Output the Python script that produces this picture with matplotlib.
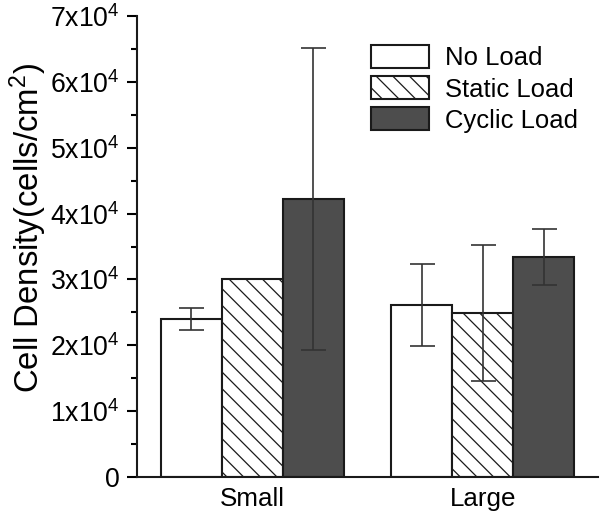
import numpy as np
import matplotlib
matplotlib.use('Agg')
import matplotlib.pyplot as plt

plt.rcParams['font.family'] = ['Liberation Sans', 'DejaVu Sans']
plt.rcParams['hatch.linewidth'] = 0.6

groups = ['Small', 'Large']
series = ['No Load', 'Static Load', 'Cyclic Load']
means = [[2.40e4, 2.61e4],
         [3.00e4, 2.49e4],
         [4.22e4, 3.34e4]]
errs = [[0.165e4, 0.62e4],
        [0.0, 1.04e4],
        [2.29e4, 0.42e4]]
colors = ['white', 'white', '#4d4d4d']
hatches = [None, '\\\\\\', None]
yticks = [0, 1e4, 2e4, 3e4, 4e4, 5e4, 6e4, 7e4]
ytick_labels = ['0'] + [r'$\mathregular{%dx10^4}$' % k for k in range(1, 8)]

fig = plt.figure(figsize=(4, 3.46), dpi=150)
ax = fig.add_axes([0.228, 0.081, 0.769, 0.888])

x = np.arange(len(groups))
w = 0.264
for i in range(3):
    ax.bar(x + (i - 1) * w, means[i], w, color=colors[i], edgecolor='#1a1a1a',
           linewidth=1.0, hatch=hatches[i], label=series[i], zorder=2)
    m = np.array(means[i])
    e = np.array(errs[i])
    keep = e > 0
    ax.errorbar((x + (i - 1) * w)[keep], m[keep], yerr=e[keep], fmt='none',
                ecolor='#333333', elinewidth=0.8, capsize=6, capthick=0.8, zorder=3)

ax.set_xlim(-0.5, 1.5)
ax.set_ylim(0, 7e4)
ax.set_xticks(x)
ax.set_xticklabels(groups, fontsize=12.5)
ax.set_yticks(yticks)
ax.set_yticklabels(ytick_labels, fontsize=12.8)
ax.set_yticks(np.arange(0.5e4, 7e4, 1e4), minor=True)
ax.tick_params(axis='x', length=0, pad=5)
ax.tick_params(axis='y', which='major', length=5, width=1.0, direction='out', pad=3)
ax.tick_params(axis='y', which='minor', length=3, width=1.0, direction='out')
for s in ['top', 'right']:
    ax.spines[s].set_visible(False)
for s in ['left', 'bottom']:
    ax.spines[s].set_linewidth(1.0)
    ax.spines[s].set_color('#1a1a1a')
ax.set_ylabel(r'Cell Density(cells/cm$\mathregular{^2}$)', fontsize=15.8)
ax.yaxis.set_label_coords(-0.19, 0.54)

ax.legend(loc='upper left', bbox_to_anchor=(0.618, 0.913), bbox_transform=fig.transFigure,
          frameon=False, fontsize=12.3, handlelength=2.26, handleheight=1.0,
          labelspacing=0.23, handletextpad=0.62, borderpad=0, borderaxespad=0)

fig.savefig('out.png', dpi=150)
